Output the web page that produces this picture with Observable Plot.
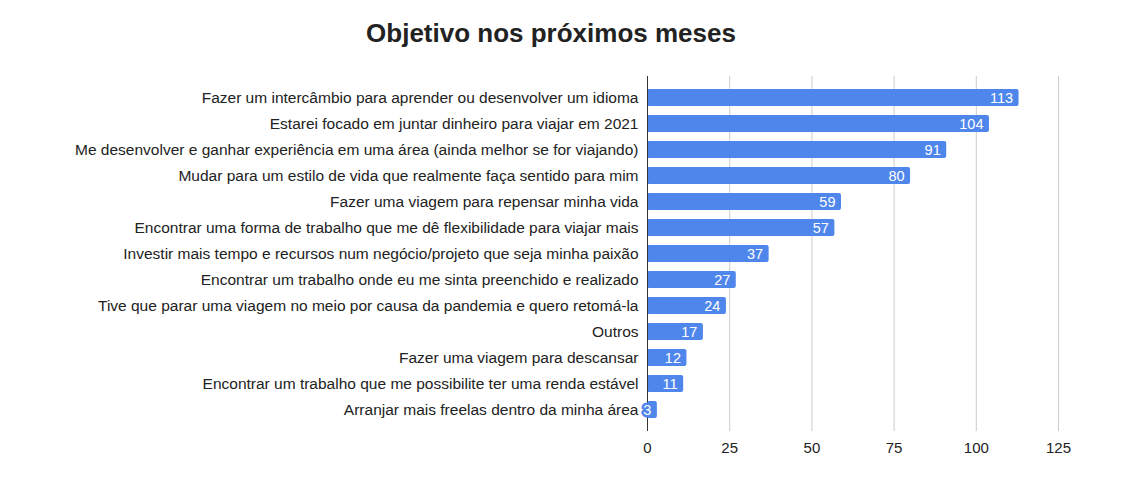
<!DOCTYPE html>
<html>
<head>
<meta charset="utf-8">
<script src="https://cdn.jsdelivr.net/npm/d3@7"></script>
<script src="https://cdn.jsdelivr.net/npm/@observablehq/plot@0.6"></script>
<style>
  html, body { margin: 0; padding: 0; background: #fff; }
  #wrap { position: relative; width: 1140px; height: 503px; font-family: "Liberation Sans", Arial, sans-serif; }
  #title { position: absolute; left: 0; top: 20px; width: 1102px; text-align: center; font-size: 26px; line-height: 26px; font-weight: bold; color: #222; }
  #chart { position: absolute; left: 0; top: 65px; }
</style>
</head>
<body>
<div id="wrap">
  <div id="title">Objetivo nos próximos meses</div>
  <div id="chart"></div>
</div>
<script>
const categories = [
  "Fazer um intercâmbio para aprender ou desenvolver um idioma",
  "Estarei focado em juntar dinheiro para viajar em 2021",
  "Me desenvolver e ganhar experiência em uma área (ainda melhor se for viajando)",
  "Mudar para um estilo de vida que realmente faça sentido para mim",
  "Fazer uma viagem para repensar minha vida",
  "Encontrar uma forma de trabalho que me dê flexibilidade para viajar mais",
  "Investir mais tempo e recursos num negócio/projeto que seja minha paixão",
  "Encontrar um trabalho onde eu me sinta preenchido e realizado",
  "Tive que parar uma viagem no meio por causa da pandemia e quero retomá-la",
  "Outros",
  "Fazer uma viagem para descansar",
  "Encontrar um trabalho que me possibilite ter uma renda estável",
  "Arranjar mais freelas dentro da minha área"
];
const values = [113, 104, 91, 80, 59, 57, 37, 27, 24, 17, 12, 11, 3];
const xTicks = [0, 25, 50, 75, 100, 125];

const data = categories.map((c, i) => ({category: c, value: values[i]}));
const blue = "#4f86ec";

const chart = Plot.plot({
  width: 1140,
  height: 438,
  marginLeft: 647,
  marginRight: 82,
  marginTop: 11,
  marginBottom: 72,
  style: {fontFamily: "'Liberation Sans', Arial, sans-serif", color: "#222", background: "#fff"},
  x: {domain: [0, 125]},
  y: {domain: categories, range: [13, 363], padding: 0.35},
  marks: [
    Plot.gridX(xTicks, {stroke: "#ccc", strokeOpacity: 1, strokeWidth: 1}),
    Plot.axisX(xTicks, {tickSize: 0, tickPadding: 11, fontSize: 15, label: null, color: "#222"}),
    Plot.axisY({tickSize: 0, tickPadding: 9, fontSize: 15.5, label: null, color: "#222"}),
    Plot.barX(data, {x: "value", y: "category", fill: blue, rx: 2}),
    Plot.ruleX([0], {stroke: "#333", strokeWidth: 1}),
    Plot.text(data, {x: "value", y: "category", text: d => String(d.value), textAnchor: "end", dx: -6, fill: "#fff", stroke: blue, strokeWidth: 5, strokeLinejoin: "round", fontSize: 14.5})
  ]
});
document.getElementById("chart").appendChild(chart);
</script>
</body>
</html>
